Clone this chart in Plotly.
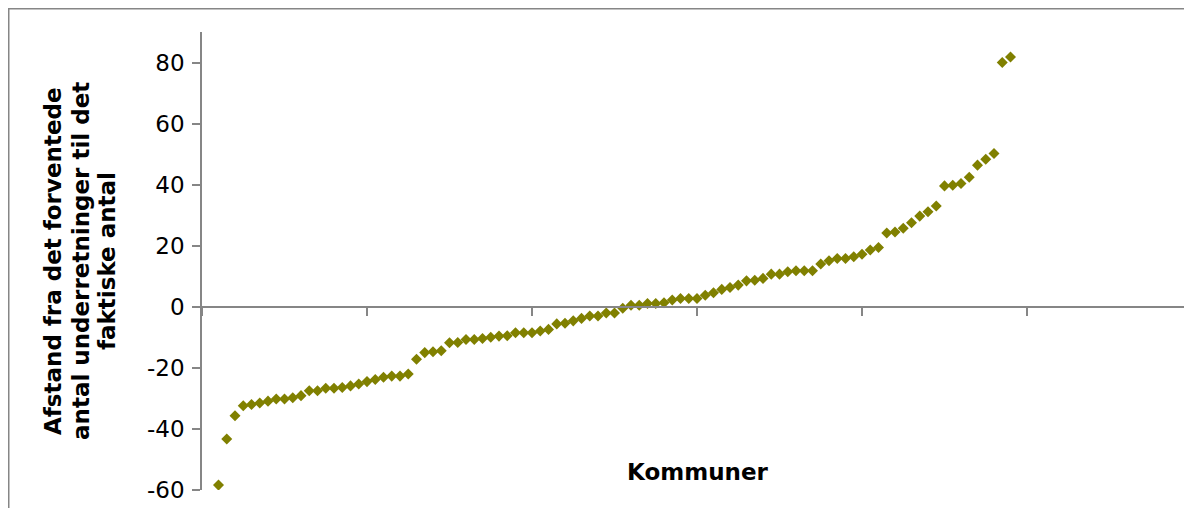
import plotly.graph_objects as go

# Data
kommune = list(range(2, 99))
afstand = [
    -58.4, -43.3, -35.7, -32.4, -32.0, -31.5, -30.9, -30.2, -30.2, -29.8,
    -29.1, -27.5, -27.5, -26.7, -26.7, -26.4, -25.9, -25.3, -24.5, -23.8,
    -23.1, -22.7, -22.7, -22.0, -17.2, -15.0, -14.7, -14.4, -11.8, -11.7,
    -10.7, -10.7, -10.4, -10.0, -9.6, -9.5, -8.5, -8.5, -8.5, -7.9,
    -7.4, -5.6, -5.4, -4.6, -3.8, -3.0, -3.0, -2.0, -2.0, -0.5,
    0.5, 0.5, 1.1, 1.1, 1.3, 2.2, 2.7, 2.7, 2.7, 3.8,
    4.6, 5.7, 6.3, 7.1, 8.5, 8.7, 9.3, 10.7, 10.7, 11.5,
    11.8, 11.8, 11.8, 14.0, 15.1, 15.8, 15.8, 16.4, 17.2, 18.6,
    19.4, 24.2, 24.5, 25.7, 27.5, 29.7, 31.1, 33.0, 39.6, 39.8,
    40.4, 42.4, 46.4, 48.3, 50.2, 80.0, 81.8,
]
y_tickvals = [-60, -40, -20, 0, 20, 40, 60, 80]
y_ticktext = ["-60", "-40", "-20", "0", "20", "40", "60", "80"]
y_title_lines = ["Afstand fra det forventede", "antal underretninger til det", "faktiske antal"]
x_title = "Kommuner"

# The page body has an 8px margin, so the figure is drawn 8px in and down.
OFF = 8
W, H = 1192 - OFF, 508 - OFF
L, R, T, B = 202 - OFF, 0, 32 - OFF, 18
pw, ph = W - L - R, H - T - B

AXIS = "#868686"
FONT = "DejaVu Sans, Verdana, sans-serif"

fig = go.Figure()
fig.add_trace(go.Scatter(
    x=kommune, y=afstand, mode="markers",
    marker=dict(symbol="diamond", size=8.5, color="#808000", line=dict(width=0)),
    showlegend=False, hoverinfo="x+y",
))

fig.update_layout(
    width=W, height=H,
    margin=dict(l=L, r=R, t=T, b=B, pad=0, autoexpand=False),
    paper_bgcolor="white", plot_bgcolor="white",
    font=dict(family=FONT, color="#000000"),
    xaxis=dict(
        range=[0, 120], dtick=20, tick0=0,
        showgrid=False, zeroline=False,
        showline=True, linecolor=AXIS, linewidth=1.5,
        ticks="outside", ticklen=8, tickwidth=1.5, tickcolor=AXIS,
        showticklabels=False,
        anchor="free", position=60 / 150,
    ),
    yaxis=dict(
        range=[-60, 90],
        tickvals=y_tickvals, ticktext=y_ticktext,
        showgrid=False, zeroline=False,
        showline=True, linecolor=AXIS, linewidth=1.5,
        ticks="outside", ticklen=8, tickwidth=1.5, tickcolor=AXIS,
        tickfont=dict(size=23, color="#000000", family=FONT),
        ticklabelstandoff=3,
    ),
)

annotations = []
centers = [53 - OFF, 81 - OFF, 107 - OFF]
for line, cx in zip(y_title_lines, centers):
    annotations.append(dict(
        text=line, xref="paper", yref="paper",
        x=(cx - L) / pw, y=0.5, xanchor="center", yanchor="middle",
        textangle=-90, showarrow=False,
        font=dict(family=FONT, size=23, color="#000000", weight="bold"),
    ))
annotations.append(dict(
    text=x_title, xref="paper", yref="paper",
    x=(697 - OFF - L) / pw, y=(H - B - (472 - OFF)) / ph, xanchor="center", yanchor="middle",
    showarrow=False,
    font=dict(family=FONT, size=23, color="#000000", weight="bold"),
))
fig.update_layout(annotations=annotations)

# Outer chart border (left and top edges visible)
fig.add_shape(
    type="rect", xref="paper", yref="paper",
    x0=(0.75 - L) / pw, x1=1.05, y0=-0.1, y1=(H - B - 0.75) / ph,
    line=dict(color=AXIS, width=1.5), fillcolor="rgba(0,0,0,0)", layer="below",
)

fig.write_html("out.html")
